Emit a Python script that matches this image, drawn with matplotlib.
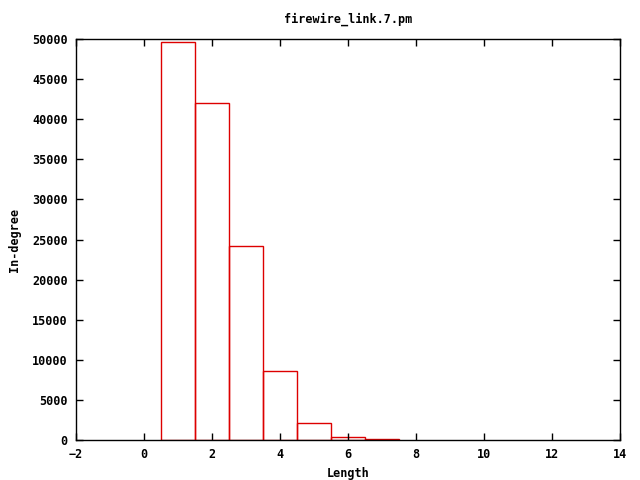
import matplotlib
matplotlib.use("Agg")
import matplotlib.pyplot as plt

lengths = [1, 2, 3, 4, 5, 6, 7]
indegree = [49600, 42000, 24200, 8600, 2100, 420, 100]

xticks = list(range(-2, 15, 2))
yticks = list(range(0, 50001, 5000))

plt.rcParams['font.family'] = 'DejaVu Sans Mono'
plt.rcParams['font.weight'] = 'bold'
plt.rcParams['font.size'] = 8.5

fig = plt.figure(figsize=(6.4, 4.8), dpi=100)
ax = fig.add_axes([0.119, 0.0833, 0.85, 0.8354])

ax.bar(lengths, indegree, width=1.0, fill=False, edgecolor='#dd0000', linewidth=1.0)

ax.set_xlim(-2, 14)
ax.set_ylim(0, 50000)
ax.set_xticks(xticks)
ax.set_yticks(yticks)
ax.tick_params(direction='in', top=True, right=True, length=5, width=1, pad=6)
for s in ax.spines.values():
    s.set_linewidth(1)

ax.set_title("firewire_link.7.pm", fontsize=8.5, fontweight='bold', pad=12)
ax.set_xlabel("Length", fontsize=8.5, fontweight='bold', labelpad=4)
ax.set_ylabel("In-degree", fontsize=8.5, fontweight='bold', labelpad=8)

fig.savefig("out.png", dpi=100)
